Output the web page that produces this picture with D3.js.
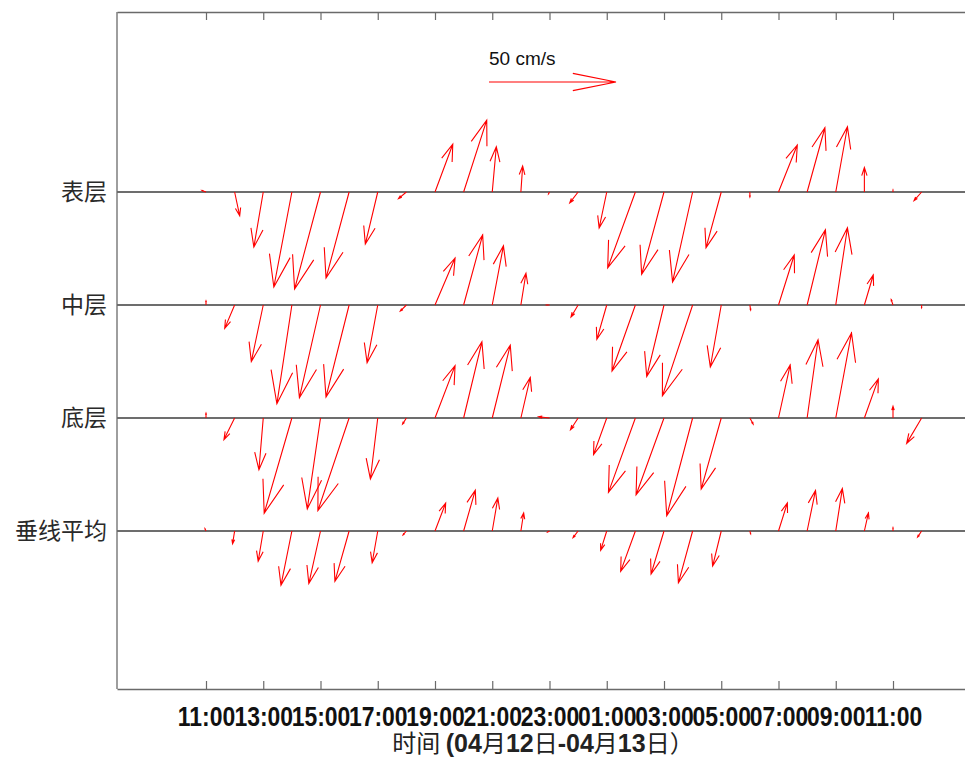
<!DOCTYPE html>
<html>
<head>
<meta charset="utf-8">
<script src="https://cdn.jsdelivr.net/npm/d3@7"></script>
<style>
  body { margin: 0; background: #fff; }
  .chart { width: 965px; height: 760px; }
</style>
</head>
<body>
<div class="chart"></div>
<script>
// 层次名称
let layers = ['表层', '中层', '底层', '垂线平均']
// 时间：04月12日 11:00 起逐时，共26个
let startTime = new Date(2023, 3, 12, 11)
let hours = d3.range(26)

// 流速分量 (cm/s)，u 向东，v 向北
let uSurface = [-1.6, 2.0, -3.7, -7.1, -10.2, -9.1, -4.9, -3.1, 7.0, 9.1, 1.6, 0.7, -0.4, -3.3, -3.0, -10.9, -8.8, -7.9, -6.0, 0, 7.4, 7.0, 4.6, 0, 0, -3.0]
let vSurface = [0.6, -9.4, -21.7, -37.4, -38.2, -33.9, -20.5, -2.6, 18.8, 28.3, 17.8, 10.2, -0.8, -4.3, -14.2, -29.9, -32.4, -35.4, -22.0, -2.0, 18.5, 25.3, 25.7, 9.6, 0.8, -3.4]
let uMiddle = [0, -3.9, -4.7, -5.9, -8.3, -9.1, -4.2, -2.4, 7.9, 7.5, 4.4, 2.0, -1.2, -2.8, -3.9, -9.2, -6.8, -11.9, -4.3, 0.3, 6.2, 7.2, 4.6, 3.5, -0.7, 0]
let vMiddle = [1.6, -9.2, -22.3, -38.9, -36.5, -36.2, -22.7, -2.4, 18.5, 27.6, 23.3, 12.5, 0, -4.7, -13.5, -26.0, -28.2, -35.8, -24.4, -2.0, 19.7, 29.6, 30.4, 11.8, 2.1, -1.1]
let uBottom = [0, -4.2, -1.7, -10.9, -5.2, -12.3, -2.9, -1.5, 7.9, 7.2, 7.1, 3.7, -4.3, -3.0, -5.2, -10.6, -11.0, -10.2, -7.9, 1.3, 4.6, 4.3, 6.2, 5.5, 0, -5.9]
let vBottom = [1.9, -8.5, -20.4, -37.5, -35.8, -36.5, -24.0, -2.4, 20.6, 30.0, 28.7, 16.0, 0.5, -4.6, -14.4, -29.3, -30.3, -38.5, -28.0, -2.4, 20.9, 30.8, 33.5, 15.4, 4.6, -10.0]
let uMean = [-0.4, -0.8, -2.0, -4.3, -4.6, -5.6, -2.2, -1.3, 4.2, 4.6, 2.2, 1.1, -0.7, -2.0, -2.4, -5.8, -5.1, -5.6, -3.4, 0.3, 3.5, 3.3, 2.6, 1.6, 0, -1.6]
let vMean = [0.9, -5.0, -11.9, -21.4, -20.7, -19.8, -12.5, -1.5, 11.0, 16.1, 13.0, 7.1, -0.4, -2.6, -7.6, -15.9, -17.0, -20.4, -13.8, -1.1, 11.1, 16.0, 16.7, 7.1, 1.3, -2.4]

// 参考箭头
let refSpeed = 50
let refLabel = '50 cm/s'

let uData = [uSurface, uMiddle, uBottom, uMean]
let vData = [vSurface, vMiddle, vBottom, vMean]

let el = d3.select('.chart')
init()

function init () {
  let theme = {
    width: 965,
    height: 760,
    left: 117,
    right: 965,
    top: 12,
    bottom: 689,
    axisColor: '#6a6a6a',
    lineColor: '#3c3c3c',
    arrowColor: '#ff0000'
  }
  let svg = el.append('svg')
    .attr('width', theme.width)
    .attr('height', theme.height)

  // x：时间比例尺，11:00 对齐到 206px，次日 11:00 对齐到 893px
  let x = d3.scaleTime()
    .domain([startTime, d3.timeHour.offset(startTime, 24)])
    .range([206, 893])
  x.domain([x.invert(theme.left), x.invert(theme.right)]).range([theme.left, theme.right])

  // y：各层基线
  let y = d3.scalePoint().domain(layers).range([192, 531])

  // 流速 -> 像素长度
  let k = d3.scaleLinear().domain([0, refSpeed]).range([0, 127])

  drawAxis(theme, svg, x, y)
  drawArrows(theme, svg, x, y, k)
  drawRef(theme, svg, k)
}

function drawAxis (theme, svg, x, y) {
  let tickValues = d3.timeHour.range(startTime, d3.timeHour.offset(startTime, 25), 2)

  // 基线
  svg.append('g').attr('class', 'baselines')
    .selectAll('line')
    .data(layers)
    .enter()
    .append('line')
    .attr('x1', theme.left)
    .attr('x2', theme.right)
    .attr('y1', d => y(d))
    .attr('y2', d => y(d))
    .attr('stroke', theme.lineColor)
    .attr('stroke-width', 1.3)

  // 底部坐标轴
  let gx = svg.append('g')
    .attr('transform', `translate(0,${theme.bottom})`)
    .call(d3.axisBottom(x).tickValues(tickValues).tickSizeInner(-8).tickSizeOuter(0)
      .tickFormat(d3.timeFormat('%H:%M')))
  gx.select('.domain').attr('stroke', theme.axisColor).attr('stroke-width', 1.3)
  gx.selectAll('.tick line').attr('stroke', theme.axisColor).attr('stroke-width', 1.2)
  // 刻度文字较窄，横向压缩
  gx.selectAll('.tick text')
    .attr('y', 37)
    .attr('dy', 0)
    .attr('transform', 'scale(0.85,1)')
    .attr('fill', '#111')
    .attr('font-family', 'Liberation Sans, Arial, sans-serif')
    .attr('font-weight', 'bold')
    .attr('font-size', '27px')

  // 顶部坐标轴
  let gt = svg.append('g')
    .attr('transform', `translate(0,${theme.top})`)
    .call(d3.axisTop(x).tickValues(tickValues).tickSizeInner(-8).tickSizeOuter(0).tickFormat(''))
  gt.select('.domain').attr('stroke', theme.axisColor).attr('stroke-width', 1.3)
  gt.selectAll('.tick line').attr('stroke', theme.axisColor).attr('stroke-width', 1.2)

  // 左侧坐标轴
  svg.append('line')
    .attr('x1', theme.left).attr('x2', theme.left)
    .attr('y1', theme.top).attr('y2', theme.bottom)
    .attr('stroke', theme.axisColor)
    .attr('stroke-width', 1.3)
  let gy = svg.append('g')
    .attr('transform', `translate(${theme.left},0)`)
    .call(d3.axisLeft(y).tickSize(0).tickPadding(10))
  gy.select('.domain').remove()
  gy.selectAll('.tick text')
    .attr('fill', '#2a2a2a')
    .attr('font-family', 'Noto Sans CJK SC, sans-serif')
    .attr('font-size', '23px')

  // 横轴标题，数字加粗
  let title = svg.append('text')
    .attr('x', 543)
    .attr('y', 752)
    .attr('text-anchor', 'middle')
    .attr('fill', '#222')
    .attr('font-size', '25px')
  let parts = [
    ['时间 ', false], ['(04', true], ['月', false], ['12', true], ['日', false],
    ['-04', true], ['月', false], ['13', true], ['日）', false]
  ]
  title.selectAll('tspan')
    .data(parts)
    .enter()
    .append('tspan')
    .attr('font-family', d => d[1] ? 'Liberation Sans, Arial, sans-serif' : 'Noto Sans CJK SC, sans-serif')
    .attr('font-weight', d => d[1] ? 'bold' : 'normal')
    .attr('font-size', d => d[1] ? '25px' : '24px')
    .text(d => d[0])
}

// MATLAB quiver 风格箭头
function arrowPath (x0, y0, dx, dy, alpha, beta) {
  let x1 = x0 + dx
  let y1 = y0 + dy
  let bx = x1 - alpha * dx
  let by = y1 - alpha * dy
  let px = -dy * alpha * beta
  let py = dx * alpha * beta
  return `M${x0},${y0}L${x1},${y1}M${bx + px},${by + py}L${x1},${y1}L${bx - px},${by - py}`
}

function drawArrows (theme, svg, x, y, k) {
  let rows = []
  layers.forEach((name, li) => {
    hours.forEach((h, i) => {
      rows.push({
        layer: name,
        time: d3.timeHour.offset(startTime, h),
        u: uData[li][i],
        v: vData[li][i]
      })
    })
  })
  svg.append('g').attr('class', 'arrows')
    .selectAll('path')
    .data(rows)
    .enter()
    .append('path')
    .attr('d', d => {
      let dx = d.u >= 0 ? k(d.u) : -k(-d.u)
      let dy = d.v >= 0 ? -k(d.v) : k(-d.v)
      return arrowPath(x(d.time), y(d.layer), dx, dy, 0.33, 0.33)
    })
    .attr('fill', 'none')
    .attr('stroke', theme.arrowColor)
    .attr('stroke-width', 1.1)
}

function drawRef (theme, svg, k) {
  let x0 = 489
  let y0 = 82
  svg.append('path')
    .attr('d', arrowPath(x0, y0, k(refSpeed), 0, 0.34, 0.2))
    .attr('fill', 'none')
    .attr('stroke', theme.arrowColor)
    .attr('stroke-width', 1.1)
  svg.append('text')
    .attr('x', x0)
    .attr('y', 65)
    .attr('fill', '#111')
    .attr('font-family', 'Liberation Sans, Arial, sans-serif')
    .attr('font-size', '19px')
    .text(refLabel)
}
</script>
</body>
</html>
